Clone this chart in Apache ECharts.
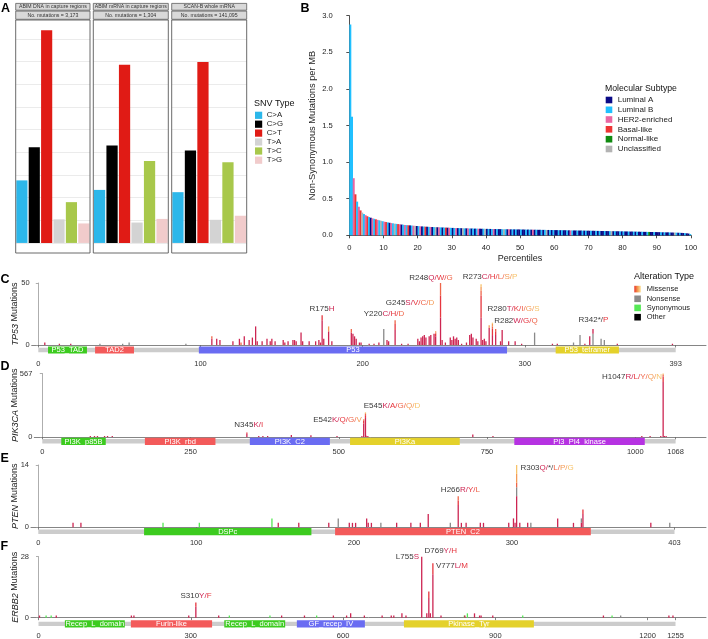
<!DOCTYPE html>
<html><head><meta charset="utf-8">
<script src="https://cdn.jsdelivr.net/npm/echarts@6/dist/echarts.min.js"></script>
<style>html,body{margin:0;padding:0;background:#fff}#c{width:708px;height:639px}</style>
</head><body><div id="c"></div>
<script>
// ---------------- Panel A data ----------------
const snvTypes = ['C>A','C>G','C>T','T>A','T>C','T>G'];
const facetTitles = ['ABIM DNA in capture regions','ABIM mRNA in capture regions','SCAN-B whole mRNA'];
const facetCounts = ['No. mutations = 3,173','No. mutations = 1,304','No. mutations = 141,095'];
const snvDNA  = [13.8,21.1,46.9,5.2,9.0,4.3];
const snvMRNA = [11.7,21.5,39.3,4.5,18.1,5.3];
const snvScan = [11.2,20.4,39.9,5.1,17.8,6.0];

// ---------------- Panel B data ----------------
const subtypeNames = ['Luminal A','Luminal B','HER2-enriched','Basal-like','Normal-like','Unclassified'];
const subtypeCodes = 'ABHRNU';
const tmbStep = 0.5; // percentile step between consecutive samples shown
const tmbValues = [
 2.88,1.62,0.78,0.56,0.46,0.39,0.34,0.31,0.29,0.275,0.26,0.25,0.24,0.232,0.225,0.218,0.211,0.205,0.198,0.192,
 0.186,0.181,0.176,0.171,0.167,0.163,0.159,0.156,0.153,0.15,0.147,0.144,0.141,0.139,0.137,0.135,0.133,0.131,0.129,0.127,
 0.125,0.123,0.121,0.12,0.118,0.117,0.115,0.114,0.113,0.112,0.111,0.11,0.109,0.108,0.107,0.106,0.105,0.104,0.103,0.102,
 0.101,0.1,0.099,0.098,0.098,0.097,0.096,0.095,0.095,0.094,0.093,0.093,0.092,0.091,0.091,0.09,0.09,0.089,0.089,0.088,
 0.088,0.087,0.087,0.086,0.086,0.085,0.085,0.084,0.084,0.083,0.083,0.083,0.082,0.082,0.081,0.081,0.081,0.08,0.08,0.08,
 0.079,0.079,0.078,0.078,0.078,0.077,0.077,0.076,0.076,0.076,0.075,0.075,0.074,0.074,0.074,0.073,0.073,0.072,0.072,0.072,
 0.071,0.071,0.07,0.07,0.07,0.069,0.069,0.068,0.068,0.067,0.067,0.066,0.066,0.066,0.065,0.065,0.064,0.064,0.063,0.063,
 0.062,0.062,0.062,0.061,0.061,0.06,0.06,0.059,0.059,0.058,0.058,0.057,0.057,0.057,0.056,0.056,0.055,0.055,0.054,0.054,
 0.053,0.053,0.052,0.052,0.051,0.051,0.05,0.05,0.049,0.049,0.048,0.048,0.047,0.047,0.046,0.046,0.045,0.045,0.044,0.044,
 0.043,0.043,0.042,0.041,0.041,0.04,0.04,0.039,0.038,0.037,0.037,0.036,0.035,0.034,0.033,0.031,0.029,0.027,0.024,0.018
];
const tmbSubtypes =
 'BBHRBHRUBHRBAHBRHBUB'+'HRBAHBUBRHABHBRABHUA'+'BHABRABHABUAHBABRAHB'+'ABHABAUBAHBABABHAABU'+'ABABHABAABUBAHABABAA'+
 'BAABABAHABAABABUABAB'+'AABABAABAHBAABAABABA'+'ABAABABAABAABUABAABA'+'BAABAABABAABAABNAABA'+'AABABAABAAUBABAABAAB';

// ---------------- Gene panels data ----------------
// mutation entries: [residue, count, type]  type 0-4 missense variants, 5 nonsense, 6 synonymous, 7 other
const tp53Len = 393, tp53Max = 50, tp53Ticks = [0,100,200,300,393];
const tp53DomNames = ['P53_TAD','TAD2','P53','P53_tetramer'];
const tp53DomStart = [6,35,99,319];
const tp53DomEnd   = [30,59,289,358];
const tp53DomKind  = [0,1,2,3];
const tp53Muts = [
 [4,2,0],[13,1,0],[20,1,0],[38,1,5],[52,1,5],[56,2,5],[91,1,5],
 [107,5,0],[107,2,2],[110,5,0],[112,4,0],[120,3,0],[124,5,0],[125,2,2],[127,7,0],[130,4,0],[132,6,0],[134,15,0],[135,3,0],[138,3,0],[141,5,0],[143,3,0],[144,5,0],[146,3,0],[151,4,0],[152,2,0],[154,3,0],[157,4,0],[158,4,0],[159,3,0],[162,10,0],[163,3,0],[167,3,0],[171,3,0],[173,4,0],[174,2,0],
 [175,20,0],[175,4,1],
 [176,5,0],[179,11,0],[179,4,3],[181,3,0],
 [193,10,0],[193,3,2],[194,9,0],[195,7,0],[196,5,0],[198,2,0],[199,2,0],[204,1,0],[207,1,0],[210,2,0],[213,13,5],[215,4,0],[216,3,0],
 [220,12,0],[220,5,1],[220,3,2],
 [224,1,0],[228,1,0],[234,5,0],[235,3,0],[236,6,0],[237,7,0],[238,8,0],[239,6,0],[241,7,0],[242,8,0],[244,9,0],
 [245,7,0],[245,2,1],[245,1,2],[245,1,3],
 [248,22,0],[248,18,1],[248,10,2],
 [249,4,0],[251,2,0],[254,6,0],[255,4,0],[256,7,0],[257,5,0],[258,6,0],[259,4,0],[261,1,0],[264,2,0],[266,8,0],[267,9,0],[268,6,0],[270,5,0],[271,3,0],
 [273,22,0],[273,18,1],[273,4,2],[273,3,3],[273,2,4],
 [274,4,0],[275,5,0],[276,3,0],[278,14,0],[278,2,3],
 [280,8,0],[280,5,1],[280,2,2],[280,2,3],[280,1,4],
 [282,8,0],[282,3,1],[282,2,2],
 [285,3,0],[286,12,0],[290,3,0],[294,3,0],[298,1,0],[306,10,5],[317,1,0],[320,1,0],[330,2,5],[334,8,5],[337,1,0],[340,7,0],
 [342,9,5],[342,4,0],
 [347,5,5],[349,4,5],[357,1,0],[391,1,0]
];
const tp53Hot = [['R175',['H']],['Y220',['C','H','D']],['G245',['S','V','C','D']],['R248',['Q','W','G']],
 ['R273',['C','H','L','S','P']],['R280',['T','K','I','G','S']],['R282',['W','G','Q']],['R342',['*','P']]];

const pik3caLen = 1068, pik3caMax = 567, pik3caTicks = [0,250,500,750,1000,1068];
const pik3caDomNames = ['PI3K_p85B','PI3K_rbd','PI3K_C2','PI3Ka','PI3_PI4_kinase'];
const pik3caDomStart = [32,173,350,519,796];
const pik3caDomEnd   = [107,292,485,704,1016];
const pik3caDomKind  = [0,1,2,3,4];
const pik3caMuts = [
 [81,9,0],[88,9,0],[93,9,0],[105,9,0],[110,9,0],[118,9,0],
 [345,30,0],[345,10,1],
 [365,9,0],[372,9,0],[380,9,0],[420,18,0],[453,15,0],[497,9,0],
 [539,9,0],
 [542,120,0],[542,25,1],[542,10,2],[542,5,3],
 [545,170,0],[545,25,1],[545,12,2],[545,8,3],[545,5,4],
 [546,12,0],[549,9,0],
 [726,22,0],[760,9,0],[1011,9,0],[1025,9,0],[1043,10,0],[1049,9,0],[1052,9,0],
 [1047,490,0],[1047,50,1],[1047,15,2],[1047,8,3],[1047,4,4]
];
const pik3caHot = [['N345',['K','I']],['E542',['K','Q','G','V']],['E545',['K','A','G','Q','D']],['H1047',['R','L','Y','Q','N']]];

const ptenLen = 403, ptenMax = 14, ptenTicks = [0,100,200,300,403];
const ptenDomNames = ['DSPc','PTEN_C2'];
const ptenDomStart = [67,188];
const ptenDomEnd   = [173,350];
const ptenDomKind  = [0,1];
const ptenMuts = [
 [22,1,0],[27,1,0],[79,1,6],[102,1,6],[148,2,6],[152,1,0],[165,1,0],[184,1,0],[190,2,5],[197,1,0],[199,1,0],[201,1,0],
 [208,2,0],[209,1,0],[211,1,0],[217,1,5],[227,1,0],[236,1,0],[242,1,0],[247,3,0],[261,1,5],
 [266,5,0],[266,1,1],[266,1,2],
 [268,1,0],[271,1,0],[280,1,0],[282,1,0],[298,1,0],[301,2,0],[302,1,0],
 [303,7,0],[303,2,5],[303,1,2],[303,2,3],[303,2,4],
 [305,1,0],[310,1,0],[312,1,5],[329,2,0],[339,1,0],[344,1,0],[344,1,5],[345,3,0],[345,1,1],[388,1,0],[400,1,5]
];
const ptenHot = [['R303',['Q','*','L','P','G']],['H266',['R','Y','L']]];

const erbb2Len = 1255, erbb2Max = 28, erbb2Ticks = [0,300,600,900,1200,1255];
const erbb2DomNames = ['Recep_L_domain','Furin-like','Recep_L_domain','GF_recep_IV','Pkinase_Tyr'];
const erbb2DomStart = [52,182,366,509,720];
const erbb2DomEnd   = [170,342,486,643,976];
const erbb2DomKind  = [0,1,0,2,3];
const erbb2Muts = [
 [2,1,0],[15,1,6],[25,1,6],[35,1,0],[183,1,0],[188,1,0],[296,1,0],
 [310,5,0],[310,2,1],
 [355,1,0],[376,1,6],[456,1,6],[479,1,0],[524,1,0],[548,1,6],[581,1,0],[607,1,0],[615,2,0],[642,1,0],[677,1,0],[695,1,0],[700,1,0],[716,2,0],[724,1,0],
 [755,28,0],[765,2,0],
 [769,9,0],[769,3,1],
 [772,2,0],
 [777,20,0],[777,5,1],
 [793,1,0],[839,1,6],[840,1,0],[845,2,6],[859,2,0],[869,1,0],[872,1,0],[895,1,0],[954,1,6],[1113,1,0],[1130,1,6],[1147,1,5],[1242,1,0],[1250,1,0]
];
const erbb2Hot = [['S310',['Y','F']],['L755',['S']],['D769',['Y','H']],['V777',['L','M']]];

// ---------------- Styles / layout ----------------
const FONT = '"Liberation Sans", Arial, Helvetica, sans-serif';
const snvColors = ['#2cb7ea','#000000','#e01b15','#d3d3d3','#a8c84b','#f1cbcb'];
const subtypeColors = ['#0a0a86','#20c0ff','#ea66a2','#ee3434','#108a10','#b3b3b3'];
const mutColors = ['#cd2552','#e6363e','#ef664a','#f49b56','#f7c36a','#8a8a8a','#55e855','#000000'];
const domainColors = ['#3ccb1f','#f35a5a','#6a6cf2','#e4d12b','#b632e2'];

const chart = echarts.init(document.getElementById('c'), null, {renderer:'canvas', width:708, height:639});
const grids = [], xAxes = [], yAxes = [], series = [], G = [];

function txt(x, y, text, size, o) {
  o = o || {};
  const st = {text:text, fontSize:size, fontFamily:FONT, fontWeight:o.bold?'bold':'normal', fill:o.color||'#222',
    align:o.align||'left', verticalAlign:o.va||'middle'};
  if (o.rich) st.rich = o.rich;
  if (o.italic) st.fontStyle = 'italic';
  G.push({type:'text', x:x, y:y, z:50, rotation:o.rot||0, silent:true, style:st});
}
function rect(x, y, w, h, fill, stroke, lw) {
  G.push({type:'rect', z:40, silent:true, shape:{x:x, y:y, width:w, height:h},
    style:{fill:fill||'none', stroke:stroke||null, lineWidth:lw||0}});
}

// ---------------- Panel A ----------------
const facetX = [[15.7,90],[93.3,168.3],[171.7,246.7]];
const facetVals = [snvDNA, snvMRNA, snvScan];
facetX.forEach((fx, f) => {
  grids.push({left:fx[0], width:fx[1]-fx[0], top:16.3, height:249.3, outerBoundsMode:'none'});
  xAxes.push({type:'category', gridIndex:f, data:snvTypes, axisLine:{show:false}, axisTick:{show:false}, axisLabel:{show:false}});
  yAxes.push({type:'value', gridIndex:f, min:-5, max:50, interval:5, axisLine:{show:false}, axisTick:{show:false}, axisLabel:{show:false},
    splitLine:{show:true, showMinLine:false, showMaxLine:false, lineStyle:{color:'#e6e6e6', width:0.8}}});
  series.push({type:'bar', xAxisIndex:f, yAxisIndex:f, silent:true, barCategoryGap:'10%',
    data: facetVals[f].map((v,i)=>({value:v, itemStyle:{color:snvColors[i]}}))});
  rect(fx[0], 20, fx[1]-fx[0], 233, 'none', '#5a5a5a', 0.9);
  rect(fx[0], 3.4, fx[1]-fx[0], 6.8, '#d9d9d9', '#4a4a4a', 0.7);
  rect(fx[0], 11.1, fx[1]-fx[0], 8.2, '#d9d9d9', '#4a4a4a', 0.7);
  txt((fx[0]+fx[1])/2, 6.9, facetTitles[f], 5.2, {align:'center', color:'#333'});
  txt((fx[0]+fx[1])/2, 15.3, facetCounts[f], 5.2, {align:'center', color:'#333'});
});
txt(1, 2, 'A', 12.5, {bold:true, va:'top', color:'#000'});
txt(254, 103.3, 'SNV Type', 9, {color:'#111'});
[115.3,124.2,133.1,142,151,160.2].forEach((cy,i)=>{
  rect(255, cy-3.6, 7.2, 7.2, snvColors[i]);
  txt(266.7, cy, snvTypes[i], 7.8, {color:'#222'});
});

// ---------------- Panel B ----------------
grids.push({left:349.3, width:341.6, top:15.7, height:219.6, outerBoundsMode:'none'});
xAxes.push({type:'value', gridIndex:3, min:0, max:100, interval:10, offset:5.5,
  axisLine:{lineStyle:{color:'#222', width:0.8}}, axisTick:{length:3, lineStyle:{color:'#222', width:0.8}},
  axisLabel:{fontSize:7.6, color:'#222', fontFamily:FONT, margin:3}, splitLine:{show:false},
  name:'Percentiles', nameLocation:'middle', nameGap:13, nameTextStyle:{fontSize:9, color:'#222', fontFamily:FONT}});
yAxes.push({type:'value', gridIndex:3, min:0, max:3, interval:0.5, offset:13.6,
  axisLine:{show:true, lineStyle:{color:'#222', width:0.8}}, axisTick:{show:true, length:3, lineStyle:{color:'#222', width:0.8}},
  axisLabel:{fontSize:7.6, color:'#222', fontFamily:FONT, margin:3, formatter:v=>v.toFixed(1)}, splitLine:{show:false},
  name:'Non-Synonymous Mutations per MB', nameLocation:'middle', nameGap:19, nameTextStyle:{fontSize:9.3, color:'#222', fontFamily:FONT}});
series.push({type:'custom', xAxisIndex:3, yAxisIndex:3, silent:true, clip:false,
  data: tmbValues.map((v,i)=>[i*tmbStep, v, Math.max(0, subtypeCodes.indexOf(tmbSubtypes[i]||'A'))]),
  renderItem:(params, api)=>{
    const x = api.value(0), v = api.value(1), s = api.value(2);
    const a = api.coord([x, 0]), b = api.coord([x + tmbStep, v]);
    return {type:'rect', shape:{x:a[0], y:b[1], width:b[0]-a[0]+0.3, height:a[1]-b[1]}, style:{fill:subtypeColors[s]}};
  }});
txt(300.5, 2, 'B', 12.5, {bold:true, va:'top', color:'#000'});
txt(605, 89, 'Molecular Subtype', 8.7, {color:'#111'});
[100,109.8,119.5,129.3,139.2,149].forEach((cy,i)=>{
  rect(605.7, cy-3.3, 6.6, 6.6, subtypeColors[i]);
  txt(617.7, cy, subtypeNames[i], 8, {color:'#222'});
});

// ---------------- Gene panels ----------------
const genes = [
 {name:'TP53', len:tp53Len, ymax:tp53Max, ticks:tp53Ticks, muts:tp53Muts, dn:tp53DomNames, ds:tp53DomStart, de:tp53DomEnd, dk:tp53DomKind, hot:tp53Hot},
 {name:'PIK3CA', len:pik3caLen, ymax:pik3caMax, ticks:pik3caTicks, muts:pik3caMuts, dn:pik3caDomNames, ds:pik3caDomStart, de:pik3caDomEnd, dk:pik3caDomKind, hot:pik3caHot},
 {name:'PTEN', len:ptenLen, ymax:ptenMax, ticks:ptenTicks, muts:ptenMuts, dn:ptenDomNames, ds:ptenDomStart, de:ptenDomEnd, dk:ptenDomKind, hot:ptenHot},
 {name:'ERBB2', len:erbb2Len, ymax:erbb2Max, ticks:erbb2Ticks, muts:erbb2Muts, dn:erbb2DomNames, ds:erbb2DomStart, de:erbb2DomEnd, dk:erbb2DomKind, hot:erbb2Hot}
];
const geneLayout = [
 {px0:38.3, pxL:675.7, left:31.7, top:283,   zero:345,   axOff:12.5, bb:5.0, titleX:15, letterY:273, letter:'C'},
 {px0:42.3, pxL:675.6, left:34.3, top:373.5, zero:437,   axOff:8.7,  bb:4.3, titleX:15, letterY:360, letter:'D'},
 {px0:38.3, pxL:674.5, left:31.0, top:465,   zero:527.3, axOff:9.4,  bb:4.4, titleX:15, letterY:452, letter:'E'},
 {px0:38.5, pxL:675.5, left:31.0, top:556.7, zero:617.7, axOff:12.4, bb:6.2, titleX:15, letterY:540, letter:'F'}
];
// label anchors [residue, count, align] (placement of hotspot annotations)
const hotAt = [
 [[174.9,29,'center'],[213.1,25,'center'],[229.2,33.9,'center'],[242.1,54,'center'],[278.5,55.4,'center'],[293,29,'center'],[294.5,19.4,'center'],[342.3,20.2,'center']],
 [[348.1,110,'center'],[497.8,152,'center'],[589.7,280,'center'],[1045,535,'right']],
 [[305.4,13.4,'left'],[267.4,8.4,'center']],
 [[310.3,10,'center'],[749.6,28,'right'],[792.4,30.9,'center'],[783.1,23.6,'left']]
];
const rich = {w:{fill:'#3a3a3a', color:'#3a3a3a', fontSize:8, fontFamily:FONT}, n:{fill:'#444', color:'#444', fontSize:8, fontFamily:FONT}};
for (let i=0;i<5;i++) rich['m'+i] = {fill:mutColors[i], color:mutColors[i], fontSize:8, fontFamily:FONT};
function hotLabel(h) {
  let s = '{w|' + h[0] + '}';
  h[1].forEach((a,i)=>{
    const key = a === '*' ? 'n' : 'm' + Math.min(i,4);
    s += '{' + key + '|' + a + (i < h[1].length-1 ? '/' : '') + '}';
  });
  return s;
}
const titleRich = {i:{fontStyle:'italic', fontSize:9, fill:'#222', fontFamily:FONT}, r:{fontSize:9, fill:'#222', fontFamily:FONT}};

genes.forEach((g, k) => {
  const L = geneLayout[k], gi = 4 + k;
  const scale = (L.pxL - L.px0) / g.len;
  const xmin = (L.left - L.px0) / scale, xmax = (706 - L.px0) / scale;
  grids.push({left:L.left, width:706-L.left, top:L.top, height:L.zero-L.top, outerBoundsMode:'none'});
  xAxes.push({type:'value', gridIndex:gi, min:xmin, max:xmax, offset:L.axOff,
    axisLine:{lineStyle:{color:'#666', width:0.8}},
    axisTick:{customValues:g.ticks, length:2.5, lineStyle:{color:'#666', width:0.8}},
    axisLabel:{customValues:g.ticks, formatter:v=>String(Math.round(v)), fontSize:7.5, color:'#333', fontFamily:FONT, margin:2}, splitLine:{show:false}});
  yAxes.push({type:'value', gridIndex:gi, min:0, max:g.ymax,
    axisLine:{show:true, lineStyle:{color:'#999', width:0.8}},
    axisTick:{show:true, customValues:[0,g.ymax], length:2.5, lineStyle:{color:'#999', width:0.8}},
    axisLabel:{customValues:[0,g.ymax], formatter:v=>String(Math.round(v)), fontSize:7.5, color:'#333', fontFamily:FONT, margin:2}, splitLine:{show:false}});
  // backbone
  series.push({type:'custom', xAxisIndex:gi, yAxisIndex:gi, silent:true, clip:false, z:1,
    data:[[0, g.len]],
    renderItem:(p, api)=>{
      const a = api.coord([api.value(0),0]), b = api.coord([api.value(1),0]);
      return {type:'rect', shape:{x:a[0], y:a[1]+L.bb-2.2, width:b[0]-a[0], height:4.4}, style:{fill:'#cccccc'}};
    }});
  // domains
  series.push({type:'custom', xAxisIndex:gi, yAxisIndex:gi, silent:true, clip:false, z:2,
    data: g.ds.map((s,i)=>[s, g.de[i], g.dk[i]]),
    renderItem:(p, api)=>{
      const a = api.coord([api.value(0),0]), b = api.coord([api.value(1),0]);
      const cy = a[1] + L.bb;
      return {type:'group', children:[
        {type:'rect', shape:{x:a[0], y:cy-3.6, width:b[0]-a[0], height:7.2}, style:{fill:domainColors[api.value(2)]}},
        {type:'text', style:{text:g.dn[p.dataIndex], x:(a[0]+b[0])/2, y:cy+0.3, align:'center', verticalAlign:'middle',
          fill:'#ffffff', fontSize:7.5, fontFamily:FONT}}
      ]};
    }});
  // stacked mutation bars
  const acc = {};
  const stacked = g.muts.map(m=>{ const b = acc[m[0]]||0; acc[m[0]] = b + m[1]; return [m[0], b, b+m[1], m[2]]; });
  series.push({type:'custom', xAxisIndex:gi, yAxisIndex:gi, silent:true, clip:false, z:3,
    data: stacked,
    renderItem:(p, api)=>{
      const a = api.coord([api.value(0), api.value(1)]), b = api.coord([api.value(0), api.value(2)]);
      return {type:'rect', shape:{x:a[0]-0.65, y:b[1], width:1.3, height:Math.max(0.6, a[1]-b[1])}, style:{fill:mutColors[api.value(3)]}};
    }});
  txt(0.5, L.letterY, L.letter, 12.5, {bold:true, va:'top', color:'#000'});
  // rotated y-axis title
  txt(L.titleX, (L.top + L.zero) / 2, '{i|' + g.name + '}{r| Mutations}', 9, {align:'center', color:'#222', rich:titleRich, rot:Math.PI/2});
});

// Alteration legend
txt(634, 277, 'Alteration Type', 9, {color:'#111'});
G.push({type:'rect', z:40, silent:true, shape:{x:634.3, y:285.8, width:6.6, height:6.6},
  style:{fill:{type:'linear', x:0, y:0, x2:1, y2:0, colorStops:[{offset:0,color:'#e8352a'},{offset:0.5,color:'#f39a50'},{offset:1,color:'#fbe6a6'}]}}});
txt(646.7, 289, 'Missense', 7.5, {color:'#222'});
[['Nonsense',298.8,mutColors[5]],['Synonymous',307.9,mutColors[6]],['Other',317.2,mutColors[7]]].forEach(it=>{
  rect(634.3, it[1]-3.3, 6.6, 6.6, it[2]);
  txt(646.7, it[1], it[0], 7.5, {color:'#222'});
});

chart.setOption({animation:false, backgroundColor:'#ffffff', grid:grids, xAxis:xAxes, yAxis:yAxes, series:series});

// hotspot labels: anchors converted to pixels through each gene panel's axis scales
genes.forEach((g, k) => {
  const gi = 4 + k;
  g.hot.forEach((h, i) => {
    const p = chart.convertToPixel({xAxisIndex:gi, yAxisIndex:gi}, [hotAt[k][i][0], hotAt[k][i][1]]);
    txt(p[0], p[1], hotLabel(h), 8, {align:hotAt[k][i][2], color:'#3a3a3a', rich:rich});
  });
});
chart.setOption({graphic:{elements:G}});
</script></body></html>
